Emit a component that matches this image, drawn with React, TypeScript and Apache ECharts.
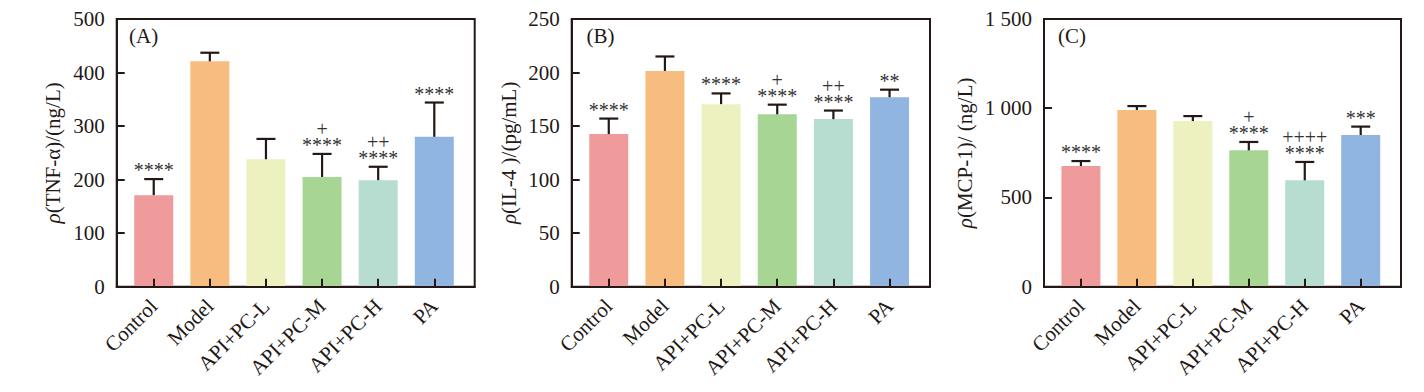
import React, { useEffect, useRef } from "react";
import * as echarts from "echarts";

const categories = ["Control", "Model", "API+PC-L", "API+PC-M", "API+PC-H", "PA"];
const colors = ["#F09B9B", "#F6BC80", "#EDF1C0", "#A7D593", "#B6DDD0", "#90B5E1"];

const tnfMean = [171, 421, 238, 205, 199, 280];
const tnfSd = [30, 16, 38, 43, 25, 64];
const tnfStars = ["****", "", "", "****", "****", "****"];
const tnfPlus = ["", "", "", "+", "++", ""];

const il4Mean = [142.5, 201.5, 170.5, 161, 156.5, 177];
const il4Sd = [14.5, 13.5, 10, 9, 8, 7];
const il4Stars = ["****", "", "****", "****", "****", "**"];
const il4Plus = ["", "", "", "+", "++", ""];

const mcpMean = [676, 990, 928, 764, 596, 850];
const mcpSd = [28, 22, 28, 47, 103, 47];
const mcpStars = ["****", "", "", "****", "****", "***"];
const mcpPlus = ["", "", "", "+", "++++", ""];

const panels = [
  { label: "(A)", name: "{i|ρ}(TNF-α)/(ng/L)", mean: tnfMean, sd: tnfSd, stars: tnfStars, plus: tnfPlus, max: 500, interval: 100, left: 116.7, width: 358, nameGap: 53, labelLeft: 129 },
  { label: "(B)", name: "{i|ρ}(IL-4 )/(pg/mL)", mean: il4Mean, sd: il4Sd, stars: il4Stars, plus: il4Plus, max: 250, interval: 50, left: 571.7, width: 358.3, nameGap: 52, labelLeft: 586.5 },
  { label: "(C)", name: "{i|ρ}(MCP-1)/ (ng/L)", mean: mcpMean, sd: mcpSd, stars: mcpStars, plus: mcpPlus, max: 1500, interval: 500, left: 1044, width: 357, nameGap: 69, labelLeft: 1058 },
];

const FONT = "'Liberation Serif', 'Times New Roman', serif";
const INK = "#231815";
const FS = 21;
const idx = categories.map((_, i) => i);

function fmtThousands(v: number) {
  const s = String(v);
  return v >= 1000 ? s.slice(0, s.length - 3) + " " + s.slice(-3) : s;
}

export default function App() {
  const ref = useRef<HTMLDivElement>(null);
  useEffect(() => {
    if (!ref.current) return;
    const chart = echarts.init(ref.current, null, { renderer: "svg" });
    const grids: any[] = [];
    const xAxes: any[] = [];
    const yAxes: any[] = [];
    const series: any[] = [];
    const titles: any[] = [];
    panels.forEach((p, k) => {
      grids.push({ left: p.left, top: 19, width: p.width, height: 267.7, show: true, borderColor: INK, borderWidth: 2, backgroundColor: "transparent" });
      xAxes.push({
        type: "value", gridIndex: k, min: -0.66, max: 5.72, z: 10,
        splitLine: { show: false },
        axisLine: { show: true, onZero: false, lineStyle: { color: INK, width: 2 } },
        axisTick: { show: true, inside: true, length: 8, customValues: idx, lineStyle: { color: INK, width: 2 } },
        axisLabel: { customValues: idx, rotate: 45, margin: 16, fontFamily: FONT, fontSize: FS, color: INK, formatter: (v: number) => categories[Math.round(v)] ?? "" },
      });
      yAxes.push({
        type: "value", gridIndex: k, min: 0, max: p.max, interval: p.interval, z: 10,
        splitLine: { show: false },
        axisLine: { show: true, onZero: false, lineStyle: { color: INK, width: 2 } },
        axisTick: { show: true, inside: true, length: 8, lineStyle: { color: INK, width: 2 } },
        axisLabel: { margin: 12, fontFamily: FONT, fontSize: FS, color: INK, formatter: (v: number) => fmtThousands(v) },
        name: p.name, nameLocation: "middle", nameGap: p.nameGap,
        nameTextStyle: { fontFamily: FONT, fontSize: FS, color: INK, rich: { i: { fontFamily: FONT, fontSize: FS, fontStyle: "italic", color: INK } } },
      });
      titles.push({ text: p.label, left: p.labelLeft, top: 25, padding: 0, textStyle: { fontFamily: FONT, fontSize: FS, fontWeight: "normal", color: INK } });
      series.push({
        type: "bar", xAxisIndex: k, yAxisIndex: k, barWidth: 39,
        data: p.mean.map((v, i) => ({ value: [i, v], itemStyle: { color: colors[i] } })),
      });
      series.push({
        type: "custom", xAxisIndex: k, yAxisIndex: k, z: 5,
        data: p.mean.map((v, i) => [i, v, p.sd[i]]),
        renderItem: (params: any, api: any) => {
          const i = api.value(0);
          const m = api.value(1);
          const s = api.value(2);
          const base = api.coord([i, m]);
          const top = api.coord([i, m + s]);
          const children: any[] = [
            { type: "line", shape: { x1: base[0], y1: base[1], x2: top[0], y2: top[1] }, style: { stroke: INK, lineWidth: 2.2 } },
            { type: "line", shape: { x1: top[0] - 9.5, y1: top[1], x2: top[0] + 9.5, y2: top[1] }, style: { stroke: INK, lineWidth: 2.2 } },
          ];
          const st = p.stars[i];
          const pl = p.plus[i];
          if (st) {
            const txt = pl ? pl + "\n" + st : st;
            children.push({ type: "text", style: { text: txt, x: top[0], y: top[1] - 1, align: "center", verticalAlign: "bottom", lineHeight: 16, fontFamily: FONT, fontSize: 20, fill: "#333" } });
          }
          return { type: "group", children };
        },
      });
    });
    chart.setOption({ animation: false, title: titles, grid: grids, xAxis: xAxes, yAxis: yAxes, series });
    return () => chart.dispose();
  }, []);
  return <div ref={ref} style={{ position: "absolute", left: 0, top: 0, width: 1424, height: 392, background: "#fff" }} />;
}
